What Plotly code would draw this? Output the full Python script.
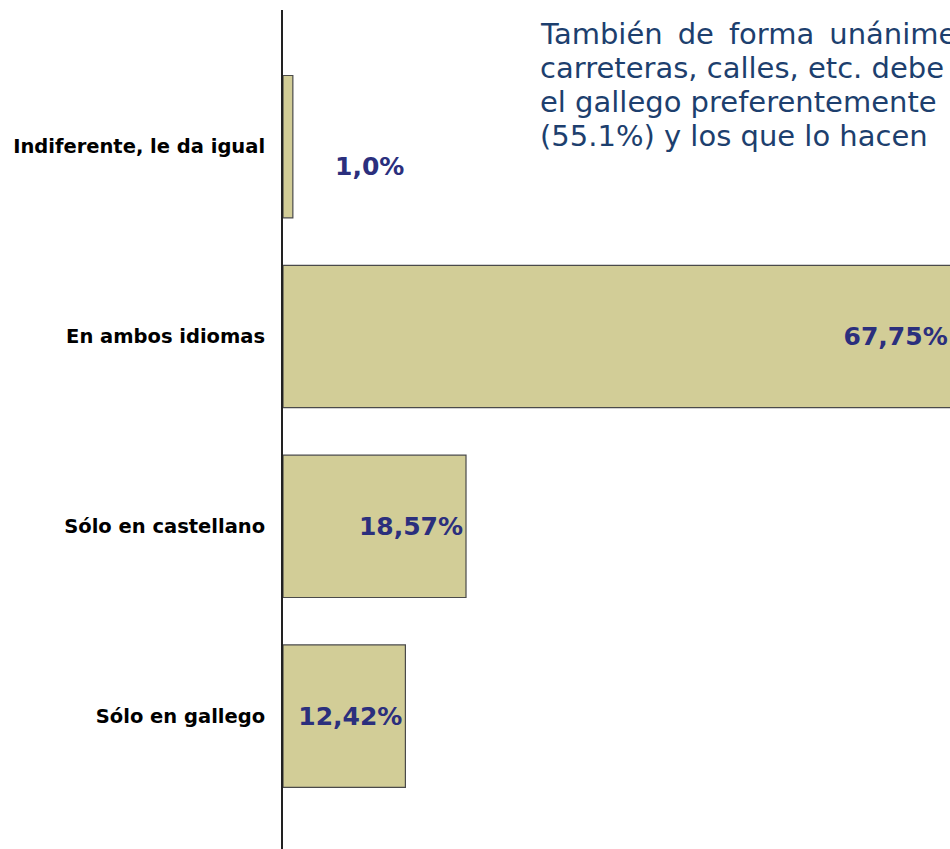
import plotly.graph_objects as go

# Data (top to bottom as shown in the chart)
categories = ["Indiferente, le da igual", "En ambos idiomas", "Sólo en castellano", "Sólo en gallego"]
values = [1.0, 67.75, 18.57, 12.42]
value_labels = ["1,0%", "67,75%", "18,57%", "12,42%"]

# Paragraph beside the chart (cut off at the right edge in the original)
text_lines = [
    "También \u2009de \u2009forma \u2009unánime",
    "carreteras, calles, etc. debe",
    "el gallego preferentemente",
    "(55.1%) y los que lo hacen",
]

BAR_COLOR = "#d2cd97"
LABEL_COLOR = "#2b2f7d"
TEXT_COLOR = "#1d3f6e"
LABEL_FONT = dict(family="DejaVu Sans", size=25, color=LABEL_COLOR, weight="bold")

# big bars carry their label inside the end, the tiny one gets it beside
inside = [v > 5 for v in values]

fig = go.Figure()
fig.add_trace(go.Bar(
    x=values[::-1],
    y=categories[::-1],
    orientation="h",
    width=0.75,
    marker=dict(color=BAR_COLOR, line=dict(color="#4a4a4a", width=1.2)),
    text=[lab if ins else "" for lab, ins in zip(value_labels, inside)][::-1],
    textposition="inside",
    insidetextanchor="end",
    textfont=LABEL_FONT,
    hoverinfo="x+y",
))

for cat, val, lab, ins in zip(categories, values, value_labels, inside):
    if ins:
        continue
    fig.add_annotation(
        x=val, y=cat, xref="x", yref="y",
        text=lab, showarrow=False,
        xanchor="left", xshift=40, yshift=-20,
        font=LABEL_FONT,
    )

line_y = [0.9714, 0.9309, 0.8903, 0.8498]
for line, y in zip(text_lines, line_y):
    fig.add_annotation(
        x=0.3823, y=y, xref="paper", yref="paper",
        text=line, showarrow=False, xanchor="left", yanchor="middle",
        font=dict(family="DejaVu Sans", size=29, color=TEXT_COLOR),
    )

fig.update_xaxes(range=[0, 67.68], visible=False, showgrid=False, zeroline=False)
fig.update_yaxes(
    categoryorder="array", categoryarray=categories[::-1],
    range=[-0.70, 3.72],
    showline=True, linecolor="#222222", linewidth=2,
    showgrid=False, zeroline=False,
    ticks="", ticklabelstandoff=12,
    tickfont=dict(family="DejaVu Sans", size=19.5, color="black", weight="bold"),
)
fig.update_layout(
    width=950, height=849,
    margin=dict(l=283, r=0, t=10, b=0),
    plot_bgcolor="white", paper_bgcolor="white",
    showlegend=False,
)

fig.write_html(
    "out.html",
    config={"displayModeBar": False},
    post_script="document.body.style.margin = '0';",
)
